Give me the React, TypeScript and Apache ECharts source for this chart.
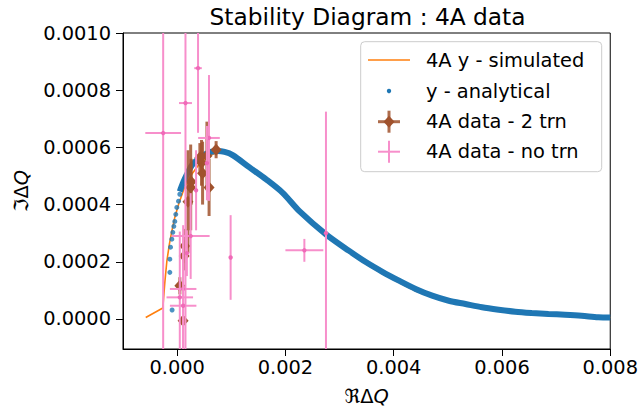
import React, { useEffect, useRef } from "react";
import * as echarts from "echarts";

// ---- data ----
const xTicks = [0, 0.002, 0.004, 0.006, 0.008];
const yTicks = [0, 0.0002, 0.0004, 0.0006, 0.0008, 0.001];

// 4A y - simulated (orange line)
const simulated: number[][] = [
  [-0.00058, 0.0000052], [-0.000264, 0.0000383], [-0.000227, 0.000129], [-0.00019, 0.000202],
  [-0.000144, 0.000261], [-0.000098, 0.000307], [-0.000043, 0.000355], [0.000031, 0.000404],
  [0.000123, 0.000453], [0.000252, 0.000502], [0.000417, 0.000544], [0.000601, 0.000571],
  [0.000748, 0.000584], [0.000877, 0.000582], [0.001025, 0.000571], [0.001337, 0.000528],
  [0.001645, 0.000486], [0.00195, 0.000438], [0.002258, 0.000374], [0.002749, 0.000291],
  [0.003178, 0.000231], [0.003485, 0.000193], [0.003791, 0.000158], [0.004098, 0.000127],
  [0.004405, 0.000098], [0.004711, 0.000076], [0.005018, 0.00006], [0.005326, 0.000049],
  [0.005631, 0.000038], [0.005939, 0.00003], [0.006246, 0.000024], [0.006552, 0.00002],
  [0.006859, 0.000017], [0.007166, 0.000014], [0.007472, 0.000011], [0.007779, 0.000006],
  [0.008, 0.000005],
];

// y - analytical: sparse dots near the origin
const analyticalDots: number[][] = [
  [-0.000093, 0.0000314], [-0.000135, 0.000163], [-0.000135, 0.000209], [-0.000122, 0.000251],
  [-0.000098, 0.000279], [-0.00008, 0.000303], [-0.000061, 0.000324], [-0.000043, 0.000341],
  [-0.000025, 0.000366], [-0.000006, 0.00039], [0.000025, 0.000412], [0.000049, 0.000436],
];
// y - analytical: dense part (dots merge into a band)
const analyticalBand: number[][] = [
  [0.000049, 0.000446], [0.000104, 0.000474], [0.000178, 0.000505], [0.00027, 0.000537],
  [0.00038, 0.000557], [0.000509, 0.000575], [0.000638, 0.000585], [0.000748, 0.000587],
  [0.000877, 0.000584], [0.001025, 0.000573], [0.001337, 0.00053], [0.001645, 0.000488],
  [0.00195, 0.000441], [0.002258, 0.000377], [0.002749, 0.000296], [0.003178, 0.000238],
  [0.003485, 0.000199], [0.003791, 0.000165], [0.004098, 0.000134], [0.004405, 0.000105],
  [0.004711, 0.0000815], [0.005018, 0.0000638], [0.005326, 0.0000523], [0.005631, 0.0000408],
  [0.005939, 0.0000324], [0.006246, 0.0000254], [0.006552, 0.0000209], [0.006859, 0.0000174],
  [0.007166, 0.000015], [0.007472, 0.0000115], [0.007779, 0.0000059], [0.008, 0.0000052],
];

// [x, y, xerr, yerr]
const data2trn: number[][] = [
  [0.00011, -0.000006, 0.00002, 0.000015],
  [0.00005, 0.000116, 0.00002, 0.00003],
  [0.00013, 0.00022, 0.00002, 0.00005],
  [0.00014, 0.000255, 0.00002, 0.00006],
  [0.0002, 0.00041, 0.00003, 0.00018],
  [0.00025, 0.00046, 0.00003, 0.00015],
  [0.00026, 0.00048, 0.00003, 0.00008],
  [0.00045, 0.000546, 0.00004, 0.00008],
  [0.00047, 0.00051, 0.00003, 0.00011],
  [0.00059, 0.00046, 0.00003, 0.0001],
  [0.00072, 0.000592, 0.00004, 0.00003],
  [0.00055, 0.00057, 0.00004, 0.00012],
  [0.00042, 0.000565, 0.00003, 0.00005],
];

const dataNoTrn: number[][] = [
  [-0.000258, 0.00065, 0.00033, 0.0009],
  [0.000154, 0.000755, 0.00012, 0.00087],
  [0.000386, 0.000877, 0.00007, 0.000226],
  [0.000588, 0.000633, 0.0002, 0.00022],
  [0.00055, 0.000545, 0.00003, 0.00013],
  [0.00035, 0.00045, 0.00003, 0.00014],
  [0.00025, 0.00029, 0.00035, 0.00015],
  [0.00018, 0.00023, 0.00001, 0.00008],
  [0.000111, 0.000105, 0.000245, 0.000223],
  [0.000049, 0.0000756, 0.000245, 0.00023],
  [0.000111, 0.0000463, 0.000245, 0.00025],
  [0.000988, 0.000215, 0.00001, 0.000148],
  [0.00235, 0.00024, 0.00035, 0.00004],
  [0.002749, 0.0003, 0.00001, 0.000425],
];

const ORANGE = "#ff7f0e";
const BLUE = "#1f77b4";
const BROWN = "#a0522d";
const PINK = "#f78fcb";
const PINK_DOT = "#f06ab8";
const FONT = "DejaVu Sans";

function errRender(color: string, lw: number, marker: "diamond" | "dot", markColor: string, opacity: number) {
  return (params: any, api: any) => {
    const x = api.value(0), y = api.value(1), xe = api.value(2), ye = api.value(3);
    const cs = params.coordSys;
    const cx = (v: number) => Math.max(cs.x, Math.min(cs.x + cs.width, v));
    const cy = (v: number) => Math.max(cs.y, Math.min(cs.y + cs.height, v));
    const c = api.coord([x, y]);
    const t = api.coord([x, y + ye]);
    const b = api.coord([x, y - ye]);
    const l = api.coord([x - xe, y]);
    const r = api.coord([x + xe, y]);
    const children: any[] = [
      { type: "line", shape: { x1: c[0], y1: cy(t[1]), x2: c[0], y2: cy(b[1]) }, style: { stroke: color, lineWidth: lw, opacity } },
      { type: "line", shape: { x1: cx(l[0]), y1: c[1], x2: cx(r[0]), y2: c[1] }, style: { stroke: color, lineWidth: lw, opacity } },
    ];
    if (marker === "diamond") {
      children.push({
        type: "polygon",
        shape: { points: [[c[0], c[1] - 6], [c[0] + 5.5, c[1]], [c[0], c[1] + 6], [c[0] - 5.5, c[1]]] },
        style: { fill: markColor },
      });
    } else {
      children.push({ type: "circle", shape: { cx: c[0], cy: c[1], r: 2.2 }, style: { fill: markColor } });
    }
    return { type: "group", children };
  };
}

export default function App() {
  const ref = useRef<HTMLDivElement>(null);
  useEffect(() => {
    if (!ref.current) return;
    const chart = echarts.init(ref.current, undefined, { renderer: "svg" });
    const lx = 360.7, ly = 41.7;
    const rows = [60, 91, 121.7, 151.7];
    const labels = ["4A y - simulated", "y - analytical", "4A data - 2 trn", "4A data - no trn"];
    const legendGraphics: any[] = [
      { type: "rect", shape: { x: lx, y: ly, width: 241, height: 130, r: 4 }, style: { fill: "rgba(255,255,255,0.8)", stroke: "#cccccc", lineWidth: 1 }, z: 10 },
      { type: "line", shape: { x1: 368, y1: rows[0], x2: 410, y2: rows[0] }, style: { stroke: ORANGE, lineWidth: 1.6 }, z: 11 },
      { type: "circle", shape: { cx: 389, cy: rows[1], r: 2.2 }, style: { fill: BLUE }, z: 11 },
      { type: "line", shape: { x1: 378, y1: rows[2], x2: 400, y2: rows[2] }, style: { stroke: BROWN, lineWidth: 3, opacity: 0.85 }, z: 11 },
      { type: "line", shape: { x1: 389, y1: rows[2] - 11, x2: 389, y2: rows[2] + 11 }, style: { stroke: BROWN, lineWidth: 3, opacity: 0.85 }, z: 11 },
      { type: "polygon", shape: { points: [[389, rows[2] - 6], [394.5, rows[2]], [389, rows[2] + 6], [383.5, rows[2]]] }, style: { fill: BROWN }, z: 11 },
      { type: "line", shape: { x1: 378, y1: rows[3], x2: 400, y2: rows[3] }, style: { stroke: PINK, lineWidth: 2 }, z: 11 },
      { type: "line", shape: { x1: 389, y1: rows[3] - 11, x2: 389, y2: rows[3] + 11 }, style: { stroke: PINK, lineWidth: 2 }, z: 11 },
      ...labels.map((t, i) => ({
        type: "text", x: 426, y: rows[i], z: 11,
        style: { text: t, fill: "#000", fontSize: 19.4, fontFamily: FONT, verticalAlign: "middle", align: "left" },
      })),
      {
        type: "text", x: 367.5, y: 16, z: 11,
        style: { text: "Stability Diagram : 4A data", fill: "#000", fontSize: 23.3, fontFamily: FONT, verticalAlign: "middle", align: "center" },
      },
    ];

    const option: any = {
      animation: false,
      backgroundColor: "#ffffff",
      grid: { left: 123, top: 33, right: 29, bottom: 61, show: true, borderColor: "#000", borderWidth: 1, backgroundColor: "transparent" },
      xAxis: {
        type: "value", min: -0.001, max: 0.008,
        axisLine: { show: true, onZero: false, lineStyle: { color: "#000", width: 1 } },
        axisTick: { show: true, inside: false, length: 7, customValues: xTicks, lineStyle: { color: "#000", width: 1 } },
        axisLabel: { customValues: xTicks, margin: 9, color: "#000", fontSize: 19.4, fontFamily: FONT, formatter: (v: number) => v.toFixed(3) },
        splitLine: { show: false },
        name: "{r|ℜΔ}{q|Q}", nameLocation: "middle", nameGap: 38,
        nameTextStyle: { color: "#000", rich: { r: { fontSize: 19.4, fontFamily: FONT, color: "#000" }, q: { fontSize: 19.4, fontFamily: FONT, fontStyle: "italic", color: "#000" } } },
      },
      yAxis: {
        type: "value", min: -0.000105, max: 0.001,
        axisLine: { show: true, onZero: false, lineStyle: { color: "#000", width: 1 } },
        axisTick: { show: true, inside: false, length: 7, customValues: yTicks, lineStyle: { color: "#000", width: 1 } },
        axisLabel: { customValues: yTicks, margin: 12, color: "#000", fontSize: 19.4, fontFamily: FONT, formatter: (v: number) => v.toFixed(4) },
        splitLine: { show: false },
        name: "{r|ℑΔ}{q|Q}", nameLocation: "middle", nameGap: 92, nameRotate: 90,
        nameTextStyle: { color: "#000", rich: { r: { fontSize: 19.4, fontFamily: FONT, color: "#000" }, q: { fontSize: 19.4, fontFamily: FONT, fontStyle: "italic", color: "#000" } } },
      },
      graphic: legendGraphics,
      series: [
        { name: "4A y - simulated", type: "line", data: simulated, showSymbol: false, symbol: "none", lineStyle: { color: ORANGE, width: 1.6 }, z: 2 },
        { name: "y - analytical", type: "scatter", data: analyticalDots, symbol: "circle", symbolSize: 5, itemStyle: { color: BLUE }, z: 3 },
        { name: "y - analytical", type: "line", data: analyticalBand, smooth: 0.3, showSymbol: false, symbol: "none", lineStyle: { color: BLUE, width: 6 }, z: 3 },
        { name: "4A data - 2 trn", type: "custom", data: data2trn, encode: { x: 0, y: 1 }, renderItem: errRender(BROWN, 3, "diamond", BROWN, 0.85), z: 4 },
        { name: "4A data - no trn", type: "custom", data: dataNoTrn, encode: { x: 0, y: 1 }, renderItem: errRender(PINK, 2, "dot", PINK_DOT, 1), z: 5 },
      ],
    };
    chart.setOption(option);
    return () => chart.dispose();
  }, []);
  return <div ref={ref} style={{ position: "absolute", left: 0, top: 0, width: 641, height: 411 }} />;
}
